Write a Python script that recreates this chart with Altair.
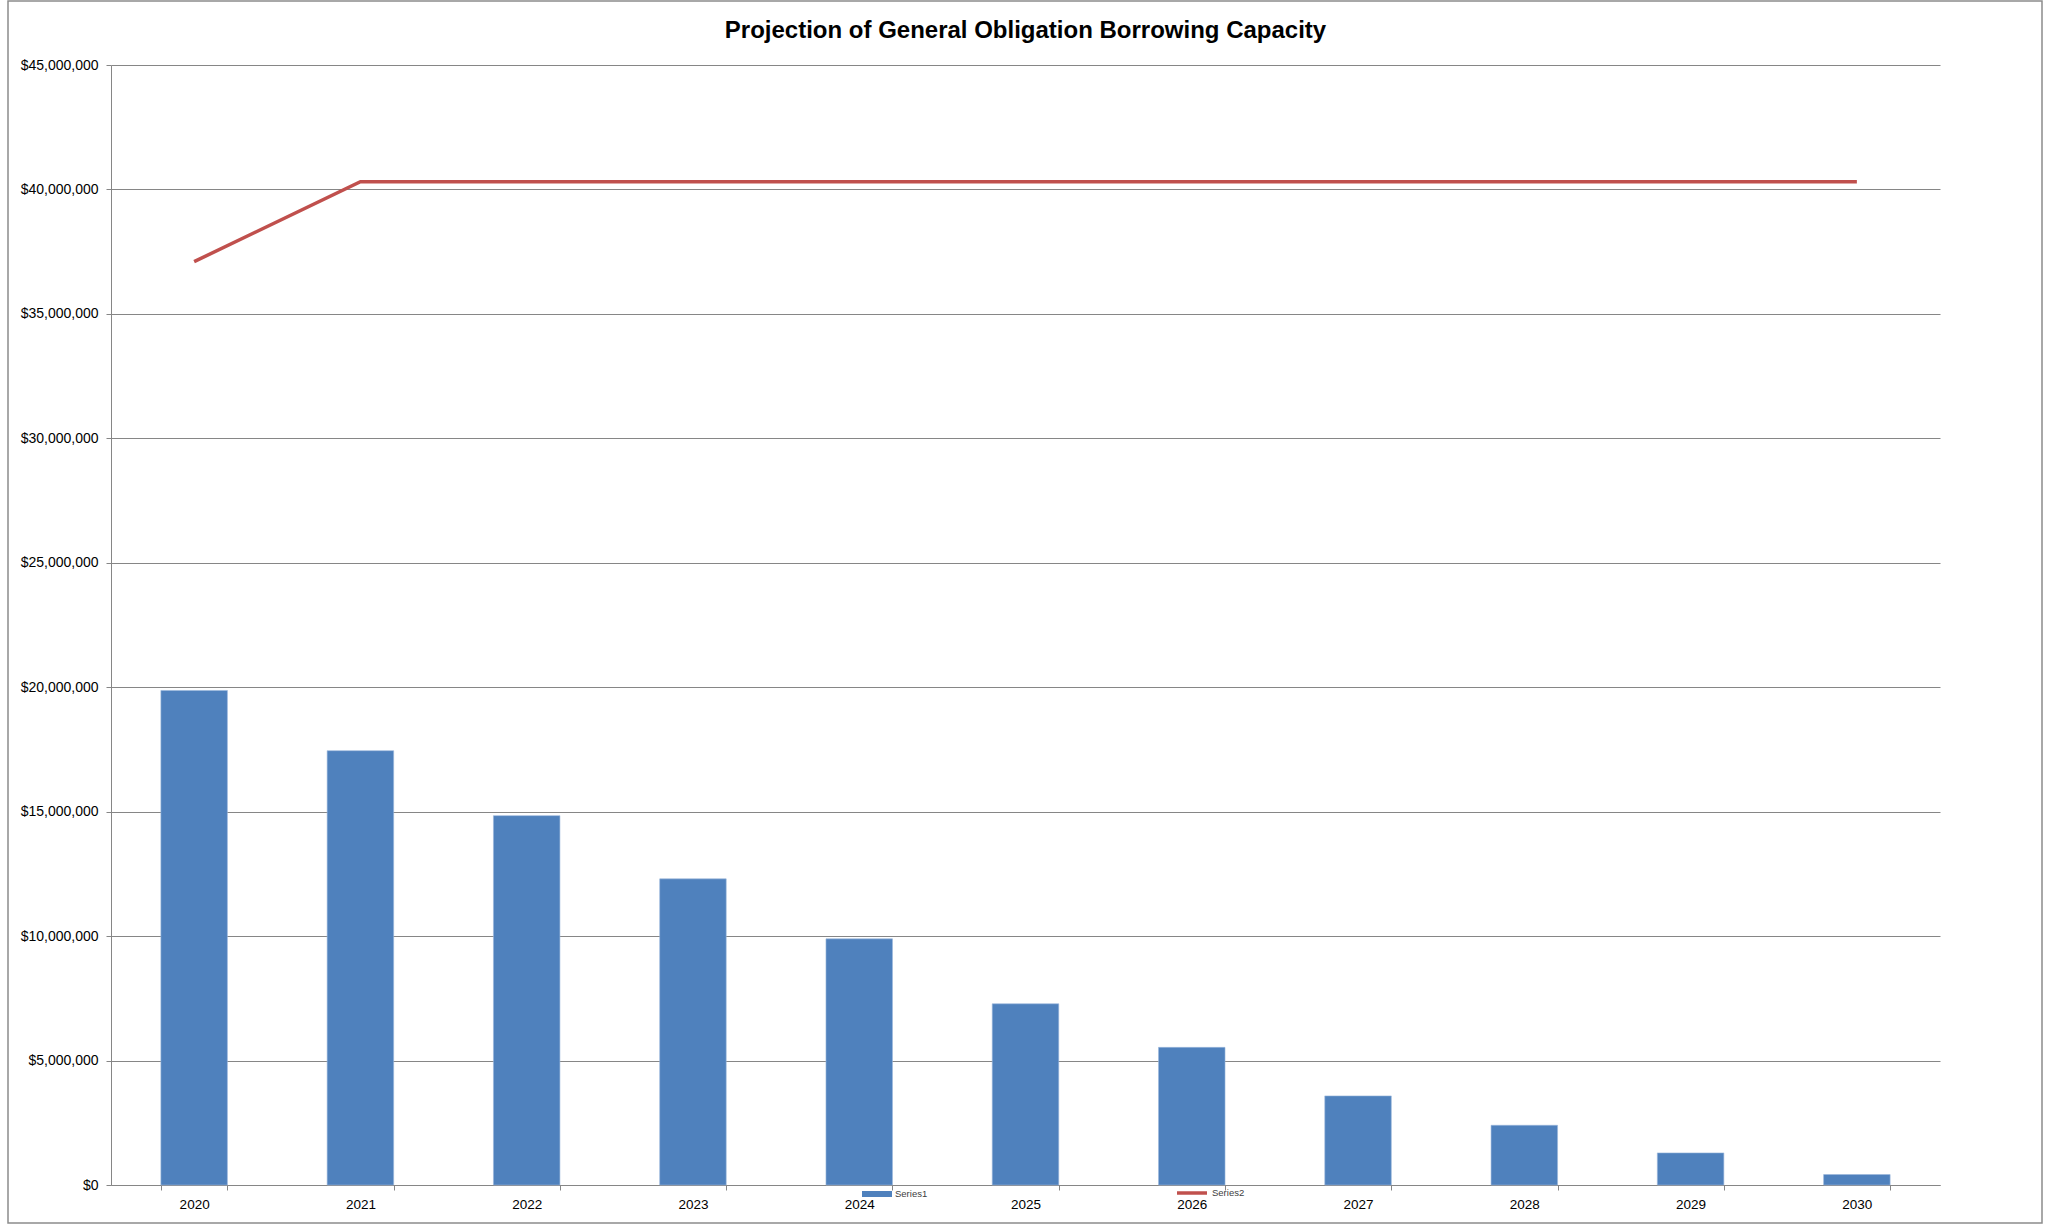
import altair as alt
import pandas as pd

years = ["2020", "2021", "2022", "2023", "2024", "2025", "2026", "2027", "2028", "2029", "2030"]
series1 = [19870000, 17450000, 14840000, 12300000, 9890000, 7280000, 5530000, 3580000, 2400000, 1290000, 420000]
series2 = [37100000, 40310000, 40310000, 40310000, 40310000, 40310000, 40310000, 40310000, 40310000, 40310000, 40310000]
y_ticks = [0, 5000000, 10000000, 15000000, 20000000, 25000000, 30000000, 35000000, 40000000, 45000000]

df = pd.DataFrame({
    "year": years,
    "s1": series1,
    "s2": series2,
    "n1": ["Series1"] * len(years),
    "n2": ["Series2"] * len(years),
})

W, H = 1829, 1120
PAD = {"left": 111, "top": 65, "right": 2049 - 111 - W, "bottom": 1225 - 65 - H}
GRID = "#868686"
FONT = "Liberation Sans"

x_enc = alt.X(
    "year:N",
    sort=years,
    title=None,
    scale=alt.Scale(paddingInner=0.6, paddingOuter=0.3),
    axis=alt.Axis(
        labelAngle=0,
        labelFont=FONT,
        labelFontSize=13.5,
        labelColor="#000000",
        labelPadding=7,
        tickBand="extent",
        tickSize=5,
        tickColor=GRID,
        domainColor=GRID,
        grid=False,
    ),
)

y_scale = alt.Scale(domain=[0, 45000000], nice=False, zero=True)

bars = alt.Chart(df).mark_bar(stroke="#9bb7dc", strokeWidth=0.6).encode(
    x=x_enc,
    y=alt.Y(
        "s1:Q",
        title=None,
        scale=y_scale,
        axis=alt.Axis(
            values=y_ticks,
            format="$,.0f",
            labelFont=FONT,
            labelFontSize=14,
            labelColor="#000000",
            labelPadding=8,
            tickSize=5,
            tickColor=GRID,
            domainColor=GRID,
            gridColor=GRID,
            gridWidth=1,
        ),
    ),
    fill=alt.Fill(
        "n1:N",
        scale=alt.Scale(domain=["Series1"], range=["#4F81BD"]),
        legend=alt.Legend(
            title=None,
            orient="none",
            legendX=751,
            legendY=1114,
            padding=0,
            symbolType="M-1,-0.2H1V0.2H-1Z",
            symbolSize=900,
            symbolStrokeWidth=0,
            labelFont=FONT,
            labelFontSize=9.5,
            labelColor="#404040",
            labelOffset=3,
        ),
    ),
)

line = alt.Chart(df).mark_line(strokeWidth=3.5).encode(
    x=alt.X("year:N", sort=years),
    y=alt.Y("s2:Q", scale=y_scale),
    stroke=alt.Stroke(
        "n2:N",
        scale=alt.Scale(domain=["Series2"], range=["#C0504D"]),
        legend=alt.Legend(
            title=None,
            orient="none",
            legendX=1064,
            legendY=1111,
            padding=0,
            symbolType="stroke",
            symbolSize=900,
            symbolStrokeWidth=3.5,
            labelFont=FONT,
            labelFontSize=9.5,
            labelColor="#404040",
            labelOffset=3,
        ),
    ),
)

frame = alt.Chart(alt.Data(values=[{"k": 1}])).mark_rect(
    fill=None, stroke="#8c8c8c", strokeWidth=1.5
).encode(
    x=alt.value(8 - 111),
    x2=alt.value(2042 - 111),
    y=alt.value(1 - 65),
    y2=alt.value(1223 - 65),
)

chart = alt.layer(bars, line, frame).resolve_scale(y="shared").properties(
    width=W,
    height=H,
    title=alt.TitleParams(
        "Projection of General Obligation Borrowing Capacity",
        font=FONT,
        fontSize=24,
        fontWeight="bold",
        color="#000000",
        anchor="middle",
        offset=0,
        dy=43,
    ),
    autosize=alt.AutoSizeParams(type="none"),
    padding=PAD,
    background="white",
).configure_view(stroke=None)

chart.save("out.html", embed_options={"renderer": "svg", "actions": False})
